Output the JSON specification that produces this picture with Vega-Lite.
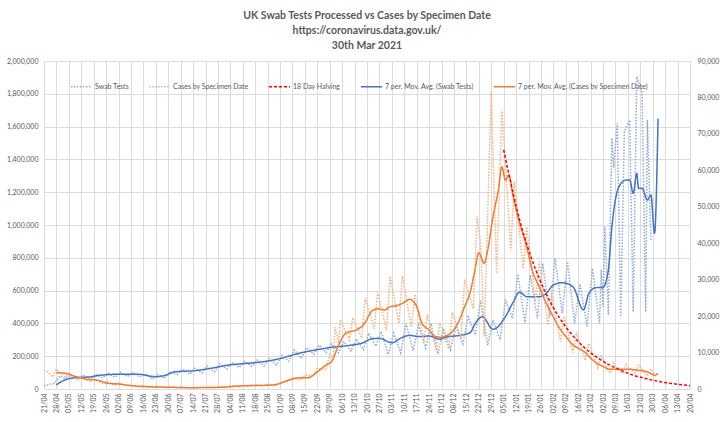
{
  "$schema": "https://vega.github.io/schema/vega-lite/v6.json",
  "width": 646,
  "height": 328,
  "autosize": {"type": "none"},
  "padding": {"left": 44, "top": 61, "right": 30, "bottom": 33},
  "background": "white",
  "config": {
    "font": "Lato",
    "view": {"stroke": null},
    "axis": {"labelFont": "Lato", "labelFontSize": 7, "labelColor": "#595959", "ticks": false, "domain": false, "gridColor": "#DCDCDC", "gridWidth": 1, "title": null},
    "legend": {"labelFont": "Lato"}
  },
  "title": {
    "text": ["UK Swab Tests Processed vs Cases by Specimen Date", "https://coronavirus.data.gov.uk/", "30th Mar 2021"],
    "font": "Lato", "fontSize": 10.5, "fontWeight": "bold", "color": "#595959",
    "anchor": "middle", "frame": "group", "offset": 6, "lineHeight": 15
  },
  "datasets": {
    "all": [
      {"s":"T","d":"2020-04-21","v":20000},{"s":"T","d":"2020-04-24","v":28000},{"s":"T","d":"2020-04-27","v":35000},{"s":"T","d":"2020-04-30","v":80000},
      {"s":"T","d":"2020-05-03","v":62000},{"s":"T","d":"2020-05-06","v":85000},{"s":"T","d":"2020-05-10","v":60000},{"s":"T","d":"2020-05-13","v":85000},
      {"s":"T","d":"2020-05-17","v":62000},{"s":"T","d":"2020-05-20","v":90000},{"s":"T","d":"2020-05-24","v":68000},{"s":"T","d":"2020-05-27","v":98000},
      {"s":"T","d":"2020-05-31","v":72000},{"s":"T","d":"2020-06-03","v":102000},{"s":"T","d":"2020-06-07","v":76000},{"s":"T","d":"2020-06-10","v":100000},
      {"s":"T","d":"2020-06-14","v":74000},{"s":"T","d":"2020-06-17","v":92000},{"s":"T","d":"2020-06-21","v":60000},{"s":"T","d":"2020-06-24","v":88000},
      {"s":"T","d":"2020-06-28","v":66000},{"s":"T","d":"2020-07-01","v":105000},{"s":"T","d":"2020-07-05","v":88000},{"s":"T","d":"2020-07-08","v":122000},
      {"s":"T","d":"2020-07-12","v":90000},{"s":"T","d":"2020-07-15","v":126000},{"s":"T","d":"2020-07-19","v":98000},{"s":"T","d":"2020-07-22","v":140000},
      {"s":"T","d":"2020-07-26","v":104000},{"s":"T","d":"2020-07-29","v":152000},{"s":"T","d":"2020-08-02","v":122000},{"s":"T","d":"2020-08-05","v":162000},
      {"s":"T","d":"2020-08-09","v":132000},{"s":"T","d":"2020-08-12","v":168000},{"s":"T","d":"2020-08-16","v":138000},{"s":"T","d":"2020-08-19","v":176000},
      {"s":"T","d":"2020-08-23","v":140000},{"s":"T","d":"2020-08-26","v":186000},{"s":"T","d":"2020-08-30","v":146000},{"s":"T","d":"2020-09-02","v":205000},
      {"s":"T","d":"2020-09-06","v":170000},{"s":"T","d":"2020-09-09","v":238000},{"s":"T","d":"2020-09-13","v":188000},{"s":"T","d":"2020-09-16","v":252000},
      {"s":"T","d":"2020-09-20","v":212000},{"s":"T","d":"2020-09-23","v":268000},{"s":"T","d":"2020-09-27","v":222000},{"s":"T","d":"2020-09-30","v":275000},
      {"s":"T","d":"2020-10-04","v":220000},{"s":"T","d":"2020-10-07","v":290000},{"s":"T","d":"2020-10-11","v":232000},{"s":"T","d":"2020-10-14","v":305000},
      {"s":"T","d":"2020-10-18","v":240000},{"s":"T","d":"2020-10-21","v":340000},{"s":"T","d":"2020-10-25","v":262000},{"s":"T","d":"2020-10-28","v":350000},
      {"s":"T","d":"2020-11-01","v":210000},{"s":"T","d":"2020-11-04","v":340000},{"s":"T","d":"2020-11-08","v":220000},{"s":"T","d":"2020-11-11","v":400000},
      {"s":"T","d":"2020-11-15","v":235000},{"s":"T","d":"2020-11-18","v":390000},{"s":"T","d":"2020-11-22","v":250000},{"s":"T","d":"2020-11-25","v":400000},
      {"s":"T","d":"2020-11-29","v":215000},{"s":"T","d":"2020-12-02","v":370000},{"s":"T","d":"2020-12-06","v":240000},{"s":"T","d":"2020-12-09","v":380000},
      {"s":"T","d":"2020-12-13","v":275000},{"s":"T","d":"2020-12-16","v":440000},{"s":"T","d":"2020-12-20","v":330000},{"s":"T","d":"2020-12-23","v":540000},
      {"s":"T","d":"2020-12-27","v":268000},{"s":"T","d":"2020-12-30","v":420000},{"s":"T","d":"2021-01-03","v":300000},{"s":"T","d":"2021-01-06","v":543000},
      {"s":"T","d":"2021-01-10","v":431000},{"s":"T","d":"2021-01-13","v":700000},{"s":"T","d":"2021-01-17","v":400000},{"s":"T","d":"2021-01-20","v":695000},
      {"s":"T","d":"2021-01-24","v":431000},{"s":"T","d":"2021-01-27","v":766000},{"s":"T","d":"2021-01-31","v":441000},{"s":"T","d":"2021-02-03","v":797000},
      {"s":"T","d":"2021-02-07","v":462000},{"s":"T","d":"2021-02-10","v":776000},{"s":"T","d":"2021-02-14","v":400000},{"s":"T","d":"2021-02-17","v":640000},
      {"s":"T","d":"2021-02-21","v":380000},{"s":"T","d":"2021-02-24","v":736000},{"s":"T","d":"2021-02-28","v":400000},{"s":"T","d":"2021-03-01","v":726000},
      {"s":"T","d":"2021-03-02","v":500000},{"s":"T","d":"2021-03-03","v":990000},{"s":"T","d":"2021-03-05","v":451000},{"s":"T","d":"2021-03-07","v":1530000},
      {"s":"T","d":"2021-03-08","v":1350000},{"s":"T","d":"2021-03-10","v":1620000},{"s":"T","d":"2021-03-12","v":441000},{"s":"T","d":"2021-03-14","v":1570000},
      {"s":"T","d":"2021-03-17","v":1640000},{"s":"T","d":"2021-03-19","v":471000},{"s":"T","d":"2021-03-21","v":1904000},{"s":"T","d":"2021-03-24","v":1813000},
      {"s":"T","d":"2021-03-26","v":471000},{"s":"T","d":"2021-03-27","v":1640000},{"s":"T","d":"2021-03-29","v":900000},

      {"s":"TM","d":"2020-04-28","v":25000},{"s":"TM","d":"2020-04-30","v":40000},{"s":"TM","d":"2020-05-04","v":60000},{"s":"TM","d":"2020-05-09","v":69000},
      {"s":"TM","d":"2020-05-18","v":75000},{"s":"TM","d":"2020-05-22","v":83000},{"s":"TM","d":"2020-06-02","v":90000},{"s":"TM","d":"2020-06-13","v":90000},
      {"s":"TM","d":"2020-06-23","v":75000},{"s":"TM","d":"2020-06-28","v":83000},{"s":"TM","d":"2020-07-04","v":105000},{"s":"TM","d":"2020-07-15","v":112000},
      {"s":"TM","d":"2020-07-25","v":128000},{"s":"TM","d":"2020-08-03","v":146000},{"s":"TM","d":"2020-08-14","v":157000},{"s":"TM","d":"2020-08-23","v":167000},
      {"s":"TM","d":"2020-08-31","v":183000},{"s":"TM","d":"2020-09-13","v":221000},{"s":"TM","d":"2020-09-23","v":242000},{"s":"TM","d":"2020-09-30","v":254000},
      {"s":"TM","d":"2020-10-10","v":266000},{"s":"TM","d":"2020-10-17","v":279000},{"s":"TM","d":"2020-10-23","v":307000},{"s":"TM","d":"2020-10-27","v":309000},
      {"s":"TM","d":"2020-11-03","v":282000},{"s":"TM","d":"2020-11-08","v":310000},{"s":"TM","d":"2020-11-13","v":327000},{"s":"TM","d":"2020-11-18","v":320000},
      {"s":"TM","d":"2020-11-24","v":323000},{"s":"TM","d":"2020-11-30","v":303000},{"s":"TM","d":"2020-12-03","v":315000},{"s":"TM","d":"2020-12-11","v":327000},
      {"s":"TM","d":"2020-12-17","v":343000},{"s":"TM","d":"2020-12-20","v":400000},{"s":"TM","d":"2020-12-24","v":441000},{"s":"TM","d":"2020-12-30","v":364000},
      {"s":"TM","d":"2021-01-06","v":441000},{"s":"TM","d":"2021-01-10","v":522000},{"s":"TM","d":"2021-01-14","v":590000},{"s":"TM","d":"2021-01-18","v":563000},
      {"s":"TM","d":"2021-01-25","v":563000},{"s":"TM","d":"2021-01-29","v":583000},{"s":"TM","d":"2021-02-02","v":634000},{"s":"TM","d":"2021-02-07","v":648000},
      {"s":"TM","d":"2021-02-13","v":624000},{"s":"TM","d":"2021-02-19","v":482000},{"s":"TM","d":"2021-02-22","v":583000},{"s":"TM","d":"2021-02-26","v":618000},
      {"s":"TM","d":"2021-03-02","v":620000},{"s":"TM","d":"2021-03-05","v":726000},{"s":"TM","d":"2021-03-07","v":990000},{"s":"TM","d":"2021-03-11","v":1234000},
      {"s":"TM","d":"2021-03-15","v":1274000},{"s":"TM","d":"2021-03-17","v":1274000},{"s":"TM","d":"2021-03-19","v":1193000},{"s":"TM","d":"2021-03-21","v":1315000},
      {"s":"TM","d":"2021-03-22","v":1224000},{"s":"TM","d":"2021-03-24","v":1224000},{"s":"TM","d":"2021-03-27","v":1152000},{"s":"TM","d":"2021-03-29","v":1183000},
      {"s":"TM","d":"2021-03-31","v":949000},{"s":"TM","d":"2021-04-02","v":1650000},

      {"s":"C","d":"2020-04-21","v":5200},{"s":"C","d":"2020-04-23","v":4700},{"s":"C","d":"2020-04-26","v":3300},{"s":"C","d":"2020-04-28","v":5400},
      {"s":"C","d":"2020-05-03","v":3200},{"s":"C","d":"2020-05-05","v":4300},{"s":"C","d":"2020-05-10","v":2500},{"s":"C","d":"2020-05-12","v":3500},
      {"s":"C","d":"2020-05-17","v":2000},{"s":"C","d":"2020-05-19","v":2900},{"s":"C","d":"2020-05-24","v":1500},{"s":"C","d":"2020-05-26","v":2200},
      {"s":"C","d":"2020-05-31","v":1000},{"s":"C","d":"2020-06-02","v":1700},{"s":"C","d":"2020-06-07","v":800},{"s":"C","d":"2020-06-09","v":1100},
      {"s":"C","d":"2020-06-14","v":550},{"s":"C","d":"2020-06-16","v":800},{"s":"C","d":"2020-06-21","v":450},{"s":"C","d":"2020-06-23","v":700},
      {"s":"C","d":"2020-06-28","v":400},{"s":"C","d":"2020-06-30","v":600},{"s":"C","d":"2020-07-05","v":330},{"s":"C","d":"2020-07-07","v":500},
      {"s":"C","d":"2020-07-12","v":300},{"s":"C","d":"2020-07-14","v":450},{"s":"C","d":"2020-07-19","v":350},{"s":"C","d":"2020-07-21","v":500},
      {"s":"C","d":"2020-07-26","v":380},{"s":"C","d":"2020-07-28","v":650},{"s":"C","d":"2020-08-02","v":550},{"s":"C","d":"2020-08-04","v":950},
      {"s":"C","d":"2020-08-09","v":650},{"s":"C","d":"2020-08-11","v":1000},{"s":"C","d":"2020-08-16","v":750},{"s":"C","d":"2020-08-18","v":1250},
      {"s":"C","d":"2020-08-23","v":850},{"s":"C","d":"2020-08-25","v":1300},{"s":"C","d":"2020-08-30","v":1000},{"s":"C","d":"2020-09-01","v":1900},
      {"s":"C","d":"2020-09-06","v":2000},{"s":"C","d":"2020-09-08","v":3200},{"s":"C","d":"2020-09-13","v":2500},{"s":"C","d":"2020-09-15","v":3800},
      {"s":"C","d":"2020-09-20","v":3600},{"s":"C","d":"2020-09-22","v":5600},{"s":"C","d":"2020-09-27","v":5500},{"s":"C","d":"2020-09-29","v":9500},
      {"s":"C","d":"2020-10-01","v":8500},{"s":"C","d":"2020-10-02","v":17000},{"s":"C","d":"2020-10-04","v":12500},{"s":"C","d":"2020-10-05","v":19000},
      {"s":"C","d":"2020-10-10","v":13500},{"s":"C","d":"2020-10-12","v":19500},{"s":"C","d":"2020-10-17","v":14000},{"s":"C","d":"2020-10-19","v":25000},
      {"s":"C","d":"2020-10-24","v":16500},{"s":"C","d":"2020-10-26","v":26500},{"s":"C","d":"2020-10-31","v":16000},{"s":"C","d":"2020-11-02","v":31000},
      {"s":"C","d":"2020-11-07","v":18000},{"s":"C","d":"2020-11-09","v":31000},{"s":"C","d":"2020-11-14","v":17000},{"s":"C","d":"2020-11-16","v":26000},
      {"s":"C","d":"2020-11-21","v":13000},{"s":"C","d":"2020-11-23","v":20500},{"s":"C","d":"2020-11-28","v":10500},{"s":"C","d":"2020-11-30","v":18000},
      {"s":"C","d":"2020-12-05","v":11000},{"s":"C","d":"2020-12-07","v":21000},{"s":"C","d":"2020-12-12","v":14000},{"s":"C","d":"2020-12-14","v":30000},
      {"s":"C","d":"2020-12-19","v":22000},{"s":"C","d":"2020-12-21","v":47300},{"s":"C","d":"2020-12-23","v":40000},{"s":"C","d":"2020-12-25","v":14400},
      {"s":"C","d":"2020-12-27","v":47700},{"s":"C","d":"2020-12-29","v":81600},{"s":"C","d":"2021-01-01","v":31700},{"s":"C","d":"2021-01-04","v":76600},
      {"s":"C","d":"2021-01-06","v":62000},{"s":"C","d":"2021-01-09","v":38000},{"s":"C","d":"2021-01-11","v":57000},{"s":"C","d":"2021-01-16","v":33000},
      {"s":"C","d":"2021-01-18","v":44500},{"s":"C","d":"2021-01-23","v":24000},{"s":"C","d":"2021-01-25","v":35000},{"s":"C","d":"2021-01-30","v":17500},
      {"s":"C","d":"2021-02-01","v":26000},{"s":"C","d":"2021-02-06","v":13000},{"s":"C","d":"2021-02-08","v":20000},{"s":"C","d":"2021-02-13","v":10000},
      {"s":"C","d":"2021-02-15","v":15500},{"s":"C","d":"2021-02-20","v":7800},{"s":"C","d":"2021-02-22","v":12500},{"s":"C","d":"2021-02-27","v":5800},
      {"s":"C","d":"2021-03-01","v":9000},{"s":"C","d":"2021-03-06","v":4300},{"s":"C","d":"2021-03-08","v":7000},{"s":"C","d":"2021-03-13","v":4200},
      {"s":"C","d":"2021-03-15","v":6800},{"s":"C","d":"2021-03-20","v":4300},{"s":"C","d":"2021-03-22","v":6500},{"s":"C","d":"2021-03-27","v":3600},
      {"s":"C","d":"2021-03-29","v":5500},{"s":"C","d":"2021-04-01","v":3300},

      {"s":"CM","d":"2020-04-28","v":4470},{"s":"CM","d":"2020-05-03","v":4300},{"s":"CM","d":"2020-05-09","v":3400},{"s":"CM","d":"2020-05-14","v":2750},
      {"s":"CM","d":"2020-05-22","v":2300},{"s":"CM","d":"2020-05-27","v":1560},{"s":"CM","d":"2020-06-02","v":1370},{"s":"CM","d":"2020-06-10","v":900},
      {"s":"CM","d":"2020-06-19","v":630},{"s":"CM","d":"2020-07-02","v":470},{"s":"CM","d":"2020-07-12","v":370},{"s":"CM","d":"2020-07-30","v":470},
      {"s":"CM","d":"2020-08-09","v":820},{"s":"CM","d":"2020-08-28","v":1100},{"s":"CM","d":"2020-08-31","v":1370},{"s":"CM","d":"2020-09-06","v":2470},
      {"s":"CM","d":"2020-09-13","v":3100},{"s":"CM","d":"2020-09-17","v":3100},{"s":"CM","d":"2020-09-21","v":4300},{"s":"CM","d":"2020-09-27","v":6600},
      {"s":"CM","d":"2020-09-30","v":7500},{"s":"CM","d":"2020-10-04","v":12000},{"s":"CM","d":"2020-10-08","v":15300},{"s":"CM","d":"2020-10-14","v":16200},
      {"s":"CM","d":"2020-10-18","v":17600},{"s":"CM","d":"2020-10-23","v":21500},{"s":"CM","d":"2020-10-26","v":22000},{"s":"CM","d":"2020-10-30","v":21700},
      {"s":"CM","d":"2020-11-02","v":22600},{"s":"CM","d":"2020-11-05","v":22800},{"s":"CM","d":"2020-11-09","v":23500},{"s":"CM","d":"2020-11-13","v":24600},
      {"s":"CM","d":"2020-11-17","v":22600},{"s":"CM","d":"2020-11-20","v":18000},{"s":"CM","d":"2020-11-24","v":16200},{"s":"CM","d":"2020-11-27","v":14500},
      {"s":"CM","d":"2020-11-30","v":14200},{"s":"CM","d":"2020-12-03","v":14500},{"s":"CM","d":"2020-12-07","v":15700},{"s":"CM","d":"2020-12-11","v":18900},
      {"s":"CM","d":"2020-12-14","v":22600},{"s":"CM","d":"2020-12-17","v":26300},{"s":"CM","d":"2020-12-20","v":33100},{"s":"CM","d":"2020-12-22","v":37400},
      {"s":"CM","d":"2020-12-25","v":34500},{"s":"CM","d":"2020-12-27","v":38100},{"s":"CM","d":"2020-12-30","v":47300},{"s":"CM","d":"2021-01-02","v":54600},
      {"s":"CM","d":"2021-01-04","v":61000},{"s":"CM","d":"2021-01-06","v":57300},{"s":"CM","d":"2021-01-08","v":58700},{"s":"CM","d":"2021-01-10","v":53700},
      {"s":"CM","d":"2021-01-14","v":45500},{"s":"CM","d":"2021-01-18","v":39000},{"s":"CM","d":"2021-01-21","v":32700},{"s":"CM","d":"2021-01-25","v":28100},
      {"s":"CM","d":"2021-01-29","v":23500},{"s":"CM","d":"2021-02-02","v":19800},{"s":"CM","d":"2021-02-05","v":17100},{"s":"CM","d":"2021-02-09","v":14400},
      {"s":"CM","d":"2021-02-13","v":12100},{"s":"CM","d":"2021-02-16","v":11200},{"s":"CM","d":"2021-02-20","v":10000},{"s":"CM","d":"2021-02-24","v":8000},
      {"s":"CM","d":"2021-03-02","v":6200},{"s":"CM","d":"2021-03-06","v":5400},{"s":"CM","d":"2021-03-11","v":5400},{"s":"CM","d":"2021-03-17","v":5400},
      {"s":"CM","d":"2021-03-21","v":5200},{"s":"CM","d":"2021-03-24","v":5000},{"s":"CM","d":"2021-03-28","v":4500},{"s":"CM","d":"2021-03-31","v":3800},
      {"s":"CM","d":"2021-04-02","v":4300},

      {"s":"H","d":"2021-01-05","v":65600},{"s":"H","d":"2021-01-14","v":46400},{"s":"H","d":"2021-01-23","v":32800},{"s":"H","d":"2021-02-01","v":23200},
      {"s":"H","d":"2021-02-10","v":16400},{"s":"H","d":"2021-02-19","v":11600},{"s":"H","d":"2021-02-28","v":8200},{"s":"H","d":"2021-03-09","v":5800},
      {"s":"H","d":"2021-03-18","v":3950},{"s":"H","d":"2021-03-27","v":2750},{"s":"H","d":"2021-04-05","v":1850},{"s":"H","d":"2021-04-14","v":1250},
      {"s":"H","d":"2021-04-20","v":950}
    ]
  },
  "data": {"name": "all"},
  "encoding": {
    "x": {
      "field": "d", "type": "temporal",
      "scale": {"type": "utc", "domain": [{"year": 2020, "month": 4, "date": 21, "utc": true}, {"year": 2021, "month": 4, "date": 20, "utc": true}]},
      "axis": {
        "format": "%d/%m", "labelAngle": 270, "grid": true, "labelPadding": 4, "labelOverlap": false, "labelFlush": false,
        "values": [
          {"year":2020,"month":4,"date":21,"utc":true},{"year":2020,"month":4,"date":28,"utc":true},
          {"year":2020,"month":5,"date":5,"utc":true},{"year":2020,"month":5,"date":12,"utc":true},{"year":2020,"month":5,"date":19,"utc":true},{"year":2020,"month":5,"date":26,"utc":true},
          {"year":2020,"month":6,"date":2,"utc":true},{"year":2020,"month":6,"date":9,"utc":true},{"year":2020,"month":6,"date":16,"utc":true},{"year":2020,"month":6,"date":23,"utc":true},{"year":2020,"month":6,"date":30,"utc":true},
          {"year":2020,"month":7,"date":7,"utc":true},{"year":2020,"month":7,"date":14,"utc":true},{"year":2020,"month":7,"date":21,"utc":true},{"year":2020,"month":7,"date":28,"utc":true},
          {"year":2020,"month":8,"date":4,"utc":true},{"year":2020,"month":8,"date":11,"utc":true},{"year":2020,"month":8,"date":18,"utc":true},{"year":2020,"month":8,"date":25,"utc":true},
          {"year":2020,"month":9,"date":1,"utc":true},{"year":2020,"month":9,"date":8,"utc":true},{"year":2020,"month":9,"date":15,"utc":true},{"year":2020,"month":9,"date":22,"utc":true},{"year":2020,"month":9,"date":29,"utc":true},
          {"year":2020,"month":10,"date":6,"utc":true},{"year":2020,"month":10,"date":13,"utc":true},{"year":2020,"month":10,"date":20,"utc":true},{"year":2020,"month":10,"date":27,"utc":true},
          {"year":2020,"month":11,"date":3,"utc":true},{"year":2020,"month":11,"date":10,"utc":true},{"year":2020,"month":11,"date":17,"utc":true},{"year":2020,"month":11,"date":24,"utc":true},
          {"year":2020,"month":12,"date":1,"utc":true},{"year":2020,"month":12,"date":8,"utc":true},{"year":2020,"month":12,"date":15,"utc":true},{"year":2020,"month":12,"date":22,"utc":true},{"year":2020,"month":12,"date":29,"utc":true},
          {"year":2021,"month":1,"date":5,"utc":true},{"year":2021,"month":1,"date":12,"utc":true},{"year":2021,"month":1,"date":19,"utc":true},{"year":2021,"month":1,"date":26,"utc":true},
          {"year":2021,"month":2,"date":2,"utc":true},{"year":2021,"month":2,"date":9,"utc":true},{"year":2021,"month":2,"date":16,"utc":true},{"year":2021,"month":2,"date":23,"utc":true},
          {"year":2021,"month":3,"date":2,"utc":true},{"year":2021,"month":3,"date":9,"utc":true},{"year":2021,"month":3,"date":16,"utc":true},{"year":2021,"month":3,"date":23,"utc":true},{"year":2021,"month":3,"date":30,"utc":true},
          {"year":2021,"month":4,"date":6,"utc":true},{"year":2021,"month":4,"date":13,"utc":true},{"year":2021,"month":4,"date":20,"utc":true}
        ]
      }
    },
    "color": {
      "field": "s", "type": "nominal",
      "scale": {"domain": ["T", "C", "H", "TM", "CM"], "range": ["#8FAADC", "#F4B183", "#FF0000", "#4472C4", "#ED7D31"]},
      "legend": {
        "orient": "none", "legendX": 26, "legendY": 14, "direction": "horizontal", "columns": 5, "title": null,
        "symbolType": "stroke", "symbolSize": 441, "symbolStrokeWidth": 1.5, "labelFontSize": 7, "labelColor": "#595959",
        "labelOffset": 2, "columnPadding": 17, "labelLimit": 300,
        "labelExpr": "datum.label == 'T' ? 'Swab Tests' : datum.label == 'C' ? 'Cases by Specimen Date' : datum.label == 'H' ? '18 Day Halving' : datum.label == 'TM' ? '7 per. Mov. Avg. (Swab Tests)' : '7 per. Mov. Avg. (Cases by Specimen Date)'"
      }
    },
    "strokeDash": {
      "field": "s", "type": "nominal",
      "scale": {"domain": ["T", "C", "H", "TM", "CM"], "range": [[1.5, 1.5], [1.5, 1.5], [3, 2], [1, 0], [1, 0]]},
      "legend": {
        "orient": "none", "legendX": 26, "legendY": 14, "direction": "horizontal", "columns": 5, "title": null,
        "symbolType": "stroke", "symbolSize": 441, "symbolStrokeWidth": 1.5, "labelFontSize": 7, "labelColor": "#595959",
        "labelOffset": 2, "columnPadding": 17, "labelLimit": 300,
        "labelExpr": "datum.label == 'T' ? 'Swab Tests' : datum.label == 'C' ? 'Cases by Specimen Date' : datum.label == 'H' ? '18 Day Halving' : datum.label == 'TM' ? '7 per. Mov. Avg. (Swab Tests)' : '7 per. Mov. Avg. (Cases by Specimen Date)'"
      }
    }
  },
  "layer": [
    {
      "encoding": {
        "y": {
          "field": "v", "type": "quantitative",
          "scale": {"domain": [0, 2000000], "nice": false},
          "axis": {"orient": "left", "grid": true, "format": ",.0f", "labelPadding": 6,
                   "values": [0, 200000, 400000, 600000, 800000, 1000000, 1200000, 1400000, 1600000, 1800000, 2000000]}
        }
      },
      "layer": [
        {"transform": [{"filter": {"field": "s", "equal": "T"}}], "mark": {"type": "line", "strokeWidth": 1.5}},
        {"transform": [{"filter": {"field": "s", "equal": "TM"}}], "mark": {"type": "line", "strokeWidth": 1.5, "interpolate": "monotone"}}
      ]
    },
    {
      "encoding": {
        "y": {
          "field": "v", "type": "quantitative",
          "scale": {"domain": [0, 90000], "nice": false},
          "axis": {"orient": "right", "grid": false, "format": ",.0f", "labelPadding": 7,
                   "values": [0, 10000, 20000, 30000, 40000, 50000, 60000, 70000, 80000, 90000]}
        }
      },
      "layer": [
        {"transform": [{"filter": {"field": "s", "equal": "C"}}], "mark": {"type": "line", "strokeWidth": 1.5}},
        {"transform": [{"filter": {"field": "s", "equal": "CM"}}], "mark": {"type": "line", "strokeWidth": 1.5, "interpolate": "monotone"}},
        {"transform": [{"filter": {"field": "s", "equal": "H"}}], "mark": {"type": "line", "strokeWidth": 1.5, "interpolate": "monotone"}}
      ]
    }
  ],
  "resolve": {"scale": {"y": "independent"}}
}
